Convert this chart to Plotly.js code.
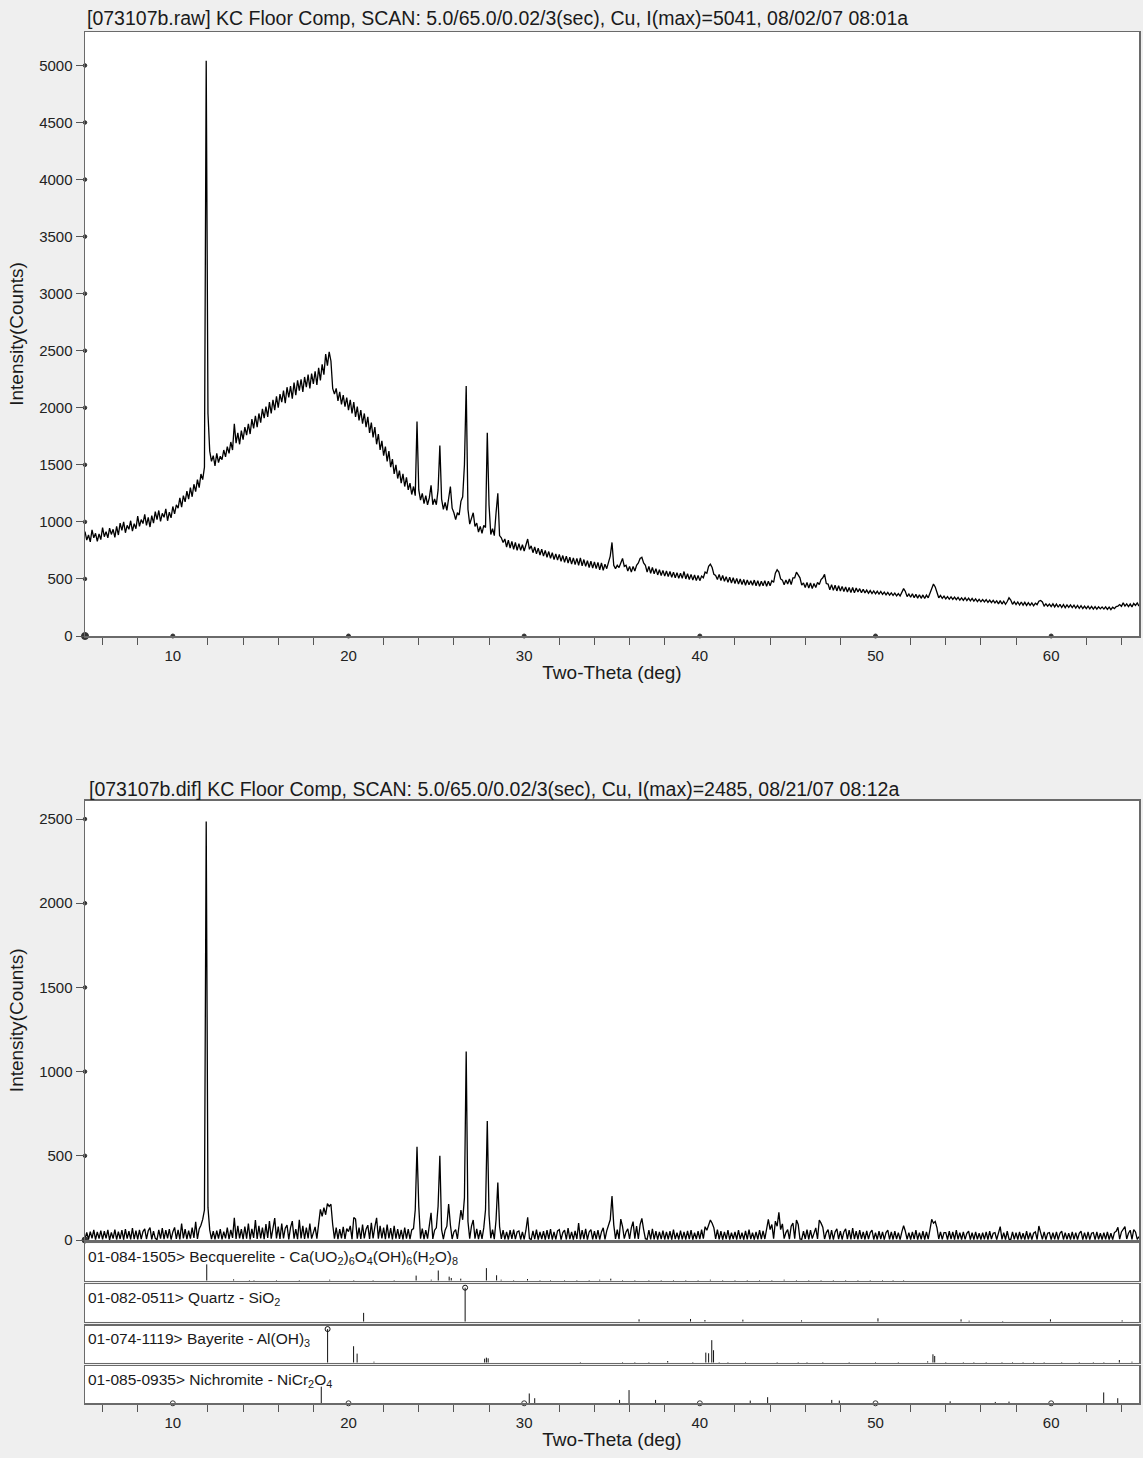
<!DOCTYPE html>
<html>
<head>
<meta charset="utf-8">
<script src="https://cdn.plot.ly/plotly-3.0.1.min.js"></script>
<style>
  html, body { margin: 0; padding: 0; background: #efefef; }
  #chart { width: 1143px; height: 1458px; }
</style>
</head>
<body>
<div id="chart"></div>
<script>
// Scan grid: start angle and step (deg 2-theta), one count per step from 5.0 to 65.0
const scanStart = 5.0;
const scanStep = 0.1;

// Raw scan counts, one row per degree (x.0 ... x.9)
const rawCounts = [
  915, 840, 885, 825, 930, 860, 900, 830, 895, 845,
  950, 870, 915, 860, 945, 890, 935, 865, 960, 885,
  990, 925, 1000, 905, 970, 935, 1010, 920, 985, 940,
  1050, 960, 1020, 985, 1065, 970, 1040, 955, 1055, 990,
  1090, 1020, 1100, 1005, 1075, 1040, 1115, 1010, 1085, 1035,
  1135, 1070, 1150, 1120, 1210, 1130, 1230, 1175, 1270, 1200,
  1300, 1220, 1330, 1265, 1370, 1300, 1420, 1370, 1480, 5041,
  1950, 1620, 1530, 1580, 1490, 1600, 1520, 1575, 1545, 1630,
  1570, 1660, 1600, 1700, 1630, 1860, 1690, 1780, 1680, 1800,
  1720, 1830, 1760, 1860, 1770, 1900, 1820, 1930, 1830, 1950,
  1870, 1990, 1910, 2010, 1920, 2050, 1950, 2070, 1980, 2100,
  2000, 2120, 2050, 2150, 2040, 2180, 2090, 2190, 2080, 2220,
  2110, 2240, 2150, 2250, 2140, 2270, 2180, 2290, 2170, 2300,
  2210, 2320, 2200, 2350, 2240, 2380, 2290, 2470, 2370, 2490,
  2410, 2170, 2120, 2170, 2060, 2140, 2030, 2110, 2010, 2090,
  1980, 2070, 1950, 2050, 1920, 2010, 1890, 1980, 1860, 1950,
  1830, 1920, 1780, 1870, 1740, 1830, 1680, 1770, 1630, 1710,
  1580, 1660, 1530, 1620, 1480, 1550, 1420, 1500, 1380, 1450,
  1340, 1420, 1310, 1390, 1280, 1340, 1240, 1310, 1230, 1880,
  1280, 1190, 1250, 1160, 1230, 1150, 1210, 1320, 1150, 1200,
  1150, 1280, 1670, 1200, 1110, 1170, 1100, 1190, 1310, 1120,
  1080, 1020, 1080, 1060, 1180, 1220, 1500, 2190, 1110, 980,
  1040, 1080, 960, 990, 910, 960, 900, 970, 950, 1780,
  1150, 890, 940, 880, 1080, 1250, 880, 860, 820, 850,
  780, 840, 770, 830, 760, 820, 750, 810, 750, 800,
  745, 800, 850, 760, 790, 730, 780, 720, 770, 710,
  760, 700, 750, 690, 740, 680, 730, 670, 720, 665,
  715, 655, 705, 645, 700, 640, 690, 630, 685, 625,
  680, 620, 685, 615, 670, 610, 660, 600, 655, 595,
  650, 590, 645, 580, 640, 575, 630, 590, 650, 700,
  820, 620, 590, 620, 600, 650, 680, 610, 620, 570,
  610, 560, 610, 570, 620, 640, 680, 690, 640, 620,
  560, 610, 550, 600, 545, 590, 535, 580, 530, 575,
  525, 570, 520, 565, 515, 560, 510, 555, 505, 550,
  505, 565, 500, 545, 495, 540, 490, 535, 485, 530,
  485, 525, 510, 560, 550, 610, 630, 600, 540, 530,
  495, 540, 485, 530, 480, 520, 470, 515, 465, 510,
  460, 505, 455, 500, 450, 495, 445, 490, 450, 485,
  445, 490, 440, 485, 435, 480, 440, 485, 435, 480,
  440, 485, 470, 550, 580, 560, 500, 490, 450, 490,
  455, 500, 450, 510, 510, 560, 530, 510, 445, 465,
  425, 470, 420, 465, 415, 460, 425, 470, 450, 495,
  510, 540, 460, 455, 405, 450, 400, 445, 395, 440,
  395, 435, 390, 430, 385, 425, 380, 425, 378, 420,
  385, 415, 380, 410, 378, 402, 375, 398, 372, 395,
  370, 392, 368, 390, 365, 385, 360, 382, 358, 378,
  355, 375, 352, 372, 350, 390, 415, 390, 345, 368,
  340, 370, 335, 365, 332, 362, 330, 360, 328, 358,
  335, 375, 420, 455, 430, 390, 335, 355, 330, 350,
  325, 345, 322, 342, 320, 340, 318, 338, 315, 335,
  312, 335, 310, 332, 308, 330, 305, 325, 302, 322,
  300, 320, 298, 318, 295, 315, 292, 312, 290, 308,
  282, 310, 280, 305, 278, 302, 335, 315, 278, 300,
  275, 298, 272, 298, 270, 295, 268, 292, 268, 290,
  265, 288, 275, 305, 312, 298, 262, 282, 262, 280,
  258, 282, 255, 280, 252, 278, 250, 275, 248, 272,
  250, 272, 248, 270, 245, 268, 242, 265, 240, 262,
  240, 262, 238, 260, 236, 258, 235, 256, 238, 255,
  236, 256, 234, 254, 232, 252, 240, 258, 262, 275,
  260, 290, 262, 282, 258, 280, 255, 285, 268, 290,
  262
];

// Background-subtracted counts on the same grid
const difCounts = [
  5, 45, 3, 50, 10, 60, 2, 48, 8, 55,
  4, 52, 10, 60, 0, 45, 8, 62, 3, 50,
  6, 58, 2, 65, 8, 52, 4, 70, 5, 55,
  3, 60, 5, 50, 66, 6, 55, 74, 4, 52,
  10, 2, 60, 8, 70, 5, 58, 10, 64, 3,
  48, 75, 6, 60, 4, 98, 10, 65, 5, 55,
  8, 74, 12, 108, 6, 66, 88, 122, 178, 2485,
  192, 60, 5, 52, 3, 55, 8, 64, 4, 50,
  10, 74, 5, 60, 12, 132, 6, 84, 10, 64,
  5, 80, 8, 98, 4, 66, 12, 118, 6, 84,
  10, 74, 5, 94, 12, 112, 8, 66, 130, 10,
  80, 6, 98, 10, 70, 88, 4, 74, 112, 8,
  64, 5, 120, 10, 84, 6, 74, 10, 98, 8,
  50, 78, 8, 94, 182, 140, 192, 150, 216, 200,
  212, 92, 8, 74, 5, 64, 10, 78, 6, 68,
  50, 84, 5, 134, 125, 8, 74, 6, 92, 10,
  64, 88, 6, 102, 10, 78, 132, 8, 84, 10,
  74, 5, 92, 10, 70, 4, 84, 8, 64, 6,
  60, 4, 74, 8, 64, 5, 60, 68, 180, 553,
  200, 8, 68, 5, 58, 8, 72, 162, 6, 58,
  72, 200, 500, 62, 5, 58, 82, 213, 90, 6,
  48, 62, 6, 82, 178, 120, 250, 1120, 110, 8,
  82, 119, 8, 66, 5, 58, 6, 72, 180, 707,
  150, 10, 62, 5, 120, 342, 80, 6, 58, 4,
  48, 3, 58, 6, 62, 5, 48, 54, 3, 48,
  4, 58, 135, 8, 3, 54, 5, 62, 2, 48,
  6, 52, 2, 58, 5, 64, 3, 48, 4, 54,
  62, 2, 44, 58, 4, 70, 5, 48, 2, 54,
  6, 100, 3, 58, 5, 66, 2, 48, 62, 4,
  52, 5, 58, 3, 48, 72, 4, 54, 86, 120,
  261, 90, 6, 62, 5, 124, 80, 8, 48, 66,
  6, 72, 109, 8, 82, 6, 92, 128, 62, 8,
  4, 58, 3, 66, 4, 52, 2, 48, 5, 56,
  3, 48, 4, 52, 2, 62, 5, 44, 3, 56,
  4, 48, 3, 54, 5, 58, 2, 44, 6, 52,
  5, 62, 8, 79, 58, 92, 119, 100, 72, 6,
  62, 4, 52, 3, 48, 5, 58, 2, 44, 6,
  48, 3, 58, 5, 44, 2, 54, 4, 62, 5,
  44, 3, 48, 4, 58, 5, 54, 6, 72, 123,
  62, 92, 8, 112, 82, 164, 62, 96, 8, 44,
  62, 5, 82, 100, 8, 119, 92, 6, 4, 52,
  6, 62, 4, 58, 8, 48, 72, 6, 119, 100,
  76, 6, 44, 62, 4, 58, 3, 48, 66, 5,
  52, 3, 48, 66, 5, 58, 4, 70, 6, 52,
  4, 58, 6, 48, 3, 54, 5, 44, 58, 3,
  44, 3, 52, 5, 48, 2, 44, 58, 4, 48,
  3, 52, 5, 44, 2, 48, 85, 52, 4, 44,
  3, 48, 5, 58, 2, 44, 4, 52, 3, 48,
  5, 62, 123, 100, 110, 72, 6, 48, 4, 44,
  44, 3, 52, 5, 48, 2, 58, 4, 44, 3,
  48, 4, 40, 52, 3, 44, 2, 48, 4, 40,
  3, 44, 4, 48, 2, 52, 5, 40, 44, 3,
  48, 79, 4, 44, 3, 52, 5, 2, 48, 4,
  44, 3, 48, 4, 40, 2, 52, 4, 44, 3,
  40, 48, 3, 83, 44, 4, 48, 2, 40, 44,
  3, 44, 4, 48, 2, 40, 52, 3, 44, 4,
  40, 2, 48, 4, 44, 3, 40, 52, 2, 44,
  4, 48, 3, 40, 44, 2, 48, 4, 40, 3,
  44, 4, 48, 3, 40, 2, 44, 52, 75, 5,
  48, 62, 79, 6, 40, 58, 4, 62, 48, 4,
  20
];

// Reference patterns: line positions (deg) and relative intensities
const becqAngle = [11.93, 13.46, 14.36, 14.62, 15.9, 17.2, 18.93, 20.3, 21.4, 22.6,
  23.85, 24.71, 25.11, 25.73, 25.85, 26.39, 27.85, 28.43, 28.69, 29.4,
  30.19, 30.9, 31.5, 32.3, 33.0, 33.7, 34.3, 34.93, 35.6, 36.3,
  37.1, 37.8, 38.5, 39.2, 39.9, 40.6, 41.3, 42.0, 42.7, 43.4,
  44.1, 44.8, 45.5, 46.2, 46.9, 47.6, 48.3, 49.0, 49.7, 50.4,
  51.0, 51.6];
const becqRel = [48, 4, 2, 2, 2, 2, 3, 2, 2, 2,
  15, 3, 30, 12, 8, 6, 37, 16, 3, 2,
  5, 2, 2, 2, 2, 2, 3, 6, 2, 2,
  2, 2, 2, 2, 2, 3, 2, 2, 2, 2,
  2, 3, 2, 2, 2, 2, 2, 2, 2, 2,
  2, 2];

const quartzAngle = [20.86, 26.64, 36.54, 39.47, 40.29, 42.45, 45.79, 50.14, 54.87, 55.33, 57.24, 59.96, 64.04];
const quartzRel = [26, 100, 7, 8, 5, 6, 4, 10, 7, 3, 2, 7, 4];

const bayAngle = [18.81, 20.29, 20.49, 21.45, 27.75, 27.85, 27.95, 33.2, 35.6, 36.3,
  37.1, 38.17, 39.6, 40.34, 40.5, 40.68, 40.78, 41.1, 41.6, 42.6,
  44.4, 45.6, 46.1, 47.0, 48.5, 50.0, 51.3, 52.97, 53.27, 53.37,
  54.0, 55.0, 55.6, 56.3, 57.2, 57.8, 58.4, 59.0, 59.6, 60.6,
  61.6, 62.4, 63.0, 63.88, 64.6];
const bayRel = [100, 49, 27, 3, 12, 15, 13, 2, 2, 2,
  2, 5, 2, 30, 28, 67, 37, 2, 2, 2,
  2, 2, 2, 2, 2, 2, 2, 4, 25, 20,
  2, 2, 2, 2, 2, 2, 2, 2, 2, 2,
  2, 2, 2, 8, 3];

const nichAngle = [18.45, 30.29, 30.6, 35.43, 35.97, 37.48, 42.87, 43.86, 47.51, 47.94, 54.25, 56.82, 57.6, 62.99, 63.79];
const nichRel = [49, 29, 15, 10, 39, 10, 8, 18, 10, 8, 6, 4, 5, 32, 15];

// Text
const rawTitle = '[073107b.raw] KC Floor Comp, SCAN: 5.0/65.0/0.02/3(sec), Cu, I(max)=5041, 08/02/07 08:01a';
const difTitle = '[073107b.dif] KC Floor Comp, SCAN: 5.0/65.0/0.02/3(sec), Cu, I(max)=2485, 08/21/07 08:12a';
const phaseLabels = [
  '01-084-1505> Becquerelite - Ca(UO<sub>2</sub>)<sub>6</sub>O<sub>4</sub>(OH)<sub>6</sub>(H<sub>2</sub>O)<sub>8</sub>',
  '01-082-0511> Quartz - SiO<sub>2</sub>',
  '01-074-1119> Bayerite - Al(OH)<sub>3</sub>',
  '01-085-0935> Nichromite - NiCr<sub>2</sub>O<sub>4</sub>'
];
const xTitle = 'Two-Theta (deg)';
const yTitle = 'Intensity(Counts)';
const xTickVals = [10, 20, 30, 40, 50, 60];
const rawYTicks = [0, 500, 1000, 1500, 2000, 2500, 3000, 3500, 4000, 4500, 5000];
const difYTicks = [0, 500, 1000, 1500, 2000, 2500];

// ---- build ----
const twoTheta = rawCounts.map((_, i) => Math.round((scanStart + i * scanStep) * 100) / 100);
const twoThetaDif = difCounts.map((_, i) => Math.round((scanStart + i * scanStep) * 100) / 100);

function sticks(angles, rel) {
  const x = [], y = [];
  angles.forEach((a, i) => { x.push(a, a, null); y.push(0, rel[i], null); });
  return { x, y };
}

const W = 1143, H = 1458;
const fx = v => v / W;
const fy = v => 1 - v / H;
const FONT = '"Liberation Sans", Arial, Helvetica, sans-serif';
const INK = '#1a1a1a';
const FRAME = '#6a6a6a';

const xDom = [fx(85), fx(1139)];
const panels = {
  raw: [fy(636), fy(32)],
  dif: [fy(1240), fy(800.7)],
  s1: [fy(1280.7), fy(1243.3)],
  s2: [fy(1321.7), fy(1284.3)],
  s3: [fy(1362.7), fy(1325.7)],
  s4: [fy(1403.3), fy(1366)]
};

function boxAxis(extra) {
  return Object.assign({
    showline: true, linecolor: FRAME, linewidth: 1.5, mirror: true,
    showgrid: false, zeroline: false, fixedrange: true
  }, extra);
}

const tickFont = { family: FONT, size: 15, color: '#222' };
const titleFont = { family: FONT, size: 19, color: INK };
const headFont = { family: FONT, size: 19.5, color: INK };

const xLabelled = (anchor) => boxAxis({
  domain: xDom, range: [5, 65], anchor: anchor,
  tickmode: 'linear', tick0: 0, dtick: 10,
  ticks: 'outside', ticklen: 5, tickcolor: 'rgba(0,0,0,0)',
  tickfont: tickFont,
  minor: { tick0: 0, dtick: 2, ticks: 'outside', ticklen: 7, tickwidth: 1, tickcolor: '#555' },
  title: { text: xTitle, font: titleFont, standoff: 3 }
});
const xPlain = (anchor) => boxAxis({
  domain: xDom, range: [5, 65], anchor: anchor, ticks: '', showticklabels: false
});
const yCounts = (dom, top, anchor) => boxAxis({
  domain: dom, range: [0, top], anchor: anchor,
  tickmode: 'linear', tick0: 0, dtick: 500,
  ticks: 'outside', ticklen: 8, tickwidth: 1, tickcolor: '#555',
  tickfont: tickFont,
  title: { text: yTitle, font: titleFont, standoff: 10 }
});
const yStrip = (dom, anchor) => boxAxis({
  domain: dom, range: [0, 110], anchor: anchor, ticks: '', showticklabels: false
});

const lineStyle = { color: '#000', width: 1.3 };
const stickStyle = { color: '#111', width: 1 };

const traces = [
  { x: twoTheta, y: rawCounts, xaxis: 'x', yaxis: 'y', mode: 'lines', line: lineStyle, hoverinfo: 'skip' },
  { x: twoThetaDif, y: difCounts, xaxis: 'x2', yaxis: 'y2', mode: 'lines', line: lineStyle, hoverinfo: 'skip' }
];

[[becqAngle, becqRel, 'x3', 'y3'], [quartzAngle, quartzRel, 'x4', 'y4'],
 [bayAngle, bayRel, 'x5', 'y5'], [nichAngle, nichRel, 'x6', 'y6']].forEach(([a, r, xa, ya]) => {
  const s = sticks(a, r);
  traces.push({ x: s.x, y: s.y, xaxis: xa, yaxis: ya, mode: 'lines', line: stickStyle, hoverinfo: 'skip' });
});

// open circles on the strongest matched lines
const qMax = quartzRel.indexOf(Math.max(...quartzRel));
const bMax = bayRel.indexOf(Math.max(...bayRel));
traces.push({ x: [quartzAngle[qMax]], y: [quartzRel[qMax]], xaxis: 'x4', yaxis: 'y4', mode: 'markers',
  marker: { symbol: 'circle-open', size: 5, color: '#111', line: { width: 1 } }, cliponaxis: false, hoverinfo: 'skip' });
traces.push({ x: [bayAngle[bMax]], y: [bayRel[bMax]], xaxis: 'x5', yaxis: 'y5', mode: 'markers',
  marker: { symbol: 'circle-open', size: 5, color: '#111', line: { width: 1 } }, cliponaxis: false, hoverinfo: 'skip' });

// tick dots on the axis lines
const dot = (x, y, xa, ya, sym, size) => ({ x, y, xaxis: xa, yaxis: ya, mode: 'markers', cliponaxis: false,
  marker: { symbol: sym, size: size, color: '#333', line: { width: 1, color: '#333' } }, hoverinfo: 'skip' });
traces.push(dot(xTickVals, xTickVals.map(() => 0), 'x', 'y', 'circle', 4));
traces.push(dot(rawYTicks.map(() => 5), rawYTicks, 'x', 'y', 'circle', 3.5));
traces.push(dot([5], [0], 'x', 'y', 'circle', 7));
traces.push(dot(difYTicks.map(() => 5), difYTicks, 'x2', 'y2', 'circle', 3.5));
traces.push(dot([5], [0], 'x2', 'y2', 'circle', 6));
traces.push(dot(xTickVals, xTickVals.map(() => 0), 'x6', 'y6', 'circle-open', 5));

const stripTops = [1243.3, 1284.3, 1325.7, 1366];
const annotations = [
  { text: difTitle, xref: 'paper', yref: 'paper', x: fx(87), y: fy(789), xanchor: 'left', yanchor: 'middle',
    showarrow: false, font: headFont }
].concat(phaseLabels.map((t, i) => ({
  text: t, xref: 'paper', yref: 'paper', x: fx(86), y: fy(stripTops[i] + 14),
  xanchor: 'left', yanchor: 'middle', showarrow: false, font: { family: FONT, size: 15.5, color: INK }
})));

const layout = {
  width: W, height: H,
  margin: { l: 0, r: 0, t: 0, b: 0 },
  paper_bgcolor: '#efefef', plot_bgcolor: '#ffffff',
  showlegend: false,
  font: { family: FONT, color: INK },
  title: { text: rawTitle, font: headFont, xref: 'paper', yref: 'paper', x: fx(87), xanchor: 'left', y: fy(18), yanchor: 'middle' },
  xaxis: xLabelled('y'),
  yaxis: yCounts(panels.raw, 5293, 'x'),
  xaxis2: xPlain('y2'),
  yaxis2: yCounts(panels.dif, 2609, 'x2'),
  xaxis3: xPlain('y3'), yaxis3: yStrip(panels.s1, 'x3'),
  xaxis4: xPlain('y4'), yaxis4: yStrip(panels.s2, 'x4'),
  xaxis5: xPlain('y5'), yaxis5: yStrip(panels.s3, 'x5'),
  xaxis6: xLabelled('y6'), yaxis6: yStrip(panels.s4, 'x6'),
  annotations: annotations
};

Plotly.newPlot('chart', traces, layout, { staticPlot: true, displayModeBar: false });
</script>
</body>
</html>
